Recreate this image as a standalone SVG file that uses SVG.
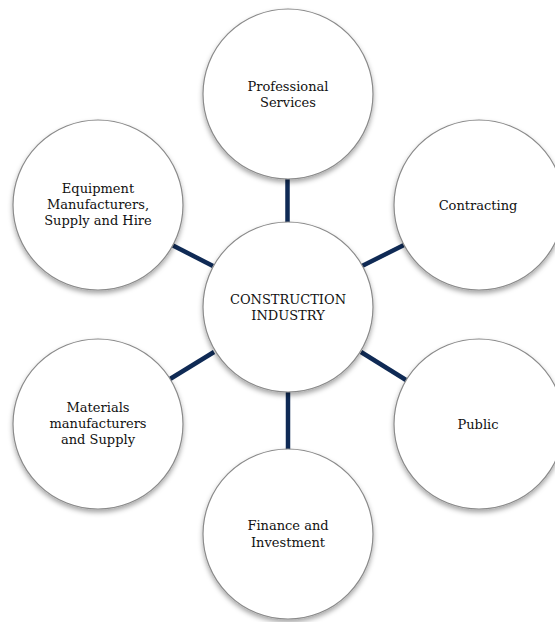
<svg xmlns="http://www.w3.org/2000/svg" width="555" height="622" viewBox="0 0 555 622">
<defs>
<filter id="sh" x="-20%" y="-20%" width="140%" height="150%">
<feDropShadow dx="0" dy="3" stdDeviation="2.5" flood-color="#000" flood-opacity="0.35"/>
</filter>
</defs>
<style>
.n{fill:#fff;stroke:#8a8a8a;stroke-width:1.2;filter:url(#sh)}
.t{font-family:"DejaVu Serif","Liberation Serif",serif;font-size:13px;fill:#111;text-anchor:middle}
.c{stroke:#0f2a55;stroke-width:4.5;fill:none}
</style>
<rect width="555" height="622" fill="#fff"/>
<g id="connectors">
<line class="c" x1="287.5" y1="178" x2="287.5" y2="224"/>
<line class="c" x1="288" y1="391" x2="288" y2="450"/>
<line class="c" x1="172" y1="245" x2="213" y2="266"/>
<line class="c" x1="404" y1="245" x2="362" y2="266"/>
<line class="c" x1="170" y1="379" x2="214" y2="352"/>
<line class="c" x1="406" y1="380" x2="361" y2="352"/>
</g>
<g id="professional">
<circle class="n" cx="288" cy="94" r="85"/>
<text class="t" x="288" y="91">Professional</text>
<text class="t" x="288" y="107">Services</text>
</g>
<g id="contracting">
<circle class="n" cx="479" cy="205" r="85"/>
<text class="t" x="478" y="210">Contracting</text>
</g>
<g id="equipment">
<circle class="n" cx="98" cy="205" r="85"/>
<text class="t" x="98" y="193">Equipment</text>
<text class="t" x="98" y="209">Manufacturers,</text>
<text class="t" x="98" y="225">Supply and Hire</text>
</g>
<g id="public">
<circle class="n" cx="479" cy="424" r="85"/>
<text class="t" x="478" y="429">Public</text>
</g>
<g id="materials">
<circle class="n" cx="98" cy="424" r="85"/>
<text class="t" x="98" y="412">Materials</text>
<text class="t" x="98" y="428">manufacturers</text>
<text class="t" x="98" y="444">and Supply</text>
</g>
<g id="finance">
<circle class="n" cx="288" cy="534" r="85"/>
<text class="t" x="288" y="530">Finance and</text>
<text class="t" x="288" y="547">Investment</text>
</g>
<g id="center">
<circle class="n" cx="288" cy="307" r="85"/>
<text class="t" x="288" y="304">CONSTRUCTION</text>
<text class="t" x="288" y="320">INDUSTRY</text>
</g>
</svg>
